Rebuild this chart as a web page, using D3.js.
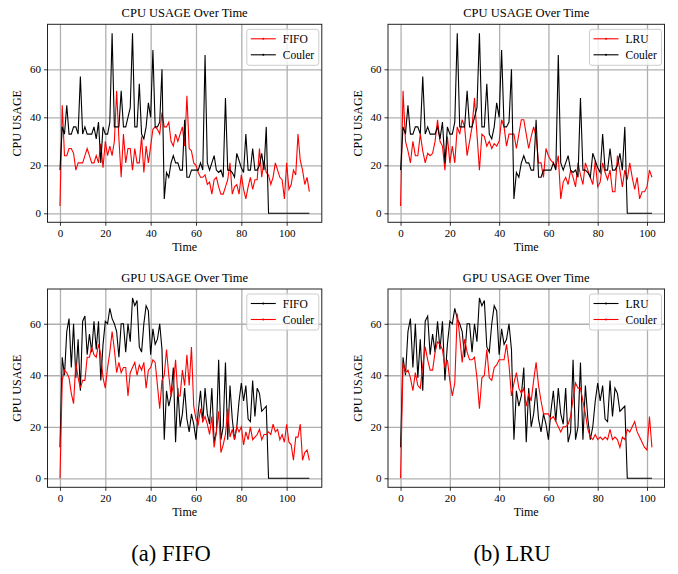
<!DOCTYPE html>
<html>
<head>
<meta charset="utf-8">
<script src="https://cdn.jsdelivr.net/npm/d3@7"></script>
<style>
  html, body { margin: 0; padding: 0; background: #fff; }
  svg { display: block; }
  text { font-family: "Liberation Serif", "DejaVu Serif", serif; fill: #000; }
</style>
</head>
<body>
<script>
// ---------------- DATA ----------------
const xTicks = [0, 20, 40, 60, 80, 100];
const yTicks = [0, 20, 40, 60];

// CPU usage, FIFO run (x = 0..110)
const cpuFifo = [3,45,24,24,27,27,25,18,21,21,
  21,24,27,24,21,21,24,21,29,19,
  30,24,28,24,30,51,31,15,33,21,
  27,27,18,27,21,21,32,17,28,21,
  28,35,36,35,33,42,36,36,38,30,
  28,33,30,33,36,28,49,27,26,21,
  20,17,15,15,16,12,13,8,14,15,
  11,8,8,11,14,21,8,11,12,8,
  16,10,6,11,15,10,14,14,27,15,
  22,17,16,12,15,21,18,15,14,6,
  21,10,12,18,16,33,22,18,12,15,9];

// CPU usage, Couler (x = 0..110)
const cpuCouler = [18,36,33,45,33,33,36,36,33,57,
  33,36,33,33,33,36,31,38,21,36,
  33,33,38,75,36,36,36,51,36,36,
  40,44,75,36,36,54,33,31,36,46,
  40,68,36,36,38,60,6,17,15,21,
  24,21,21,18,18,39,15,15,18,18,
  18,18,21,18,66,21,18,21,24,18,
  17,18,15,48,18,18,17,15,25,22,
  19,17,33,18,18,27,18,18,20,25,
  18,36,0,0,0,0,0,0,0,0,
  0,0,0,0,0,0,0,0,0,0,0];

// CPU usage, LRU run (x = 0..102)
const cpuLru = [3,51,30,26,21,30,24,24,33,26,
  21,25,24,25,30,39,30,28,18,32,
  21,28,21,36,33,39,36,24,30,36,
  48,33,18,33,32,28,30,27,29,28,
  30,39,36,28,33,33,33,27,33,39,
  39,33,27,32,36,32,21,21,15,27,
  24,22,21,19,24,6,13,15,12,18,
  15,11,21,16,12,21,18,15,12,22,
  11,13,21,17,14,18,9,9,24,18,
  11,18,14,21,15,10,15,6,9,9,
  11,18,15];

// GPU usage, black series (x = 0..110)
const gpuBlack = [12,47,40,57,62,43,60,39,54,34,
  61,63,48,56,49,61,50,61,38,52,
  61,60,66,62,60,57,47,60,60,49,
  60,53,70,67,69,51,49,60,67,65,
  48,58,52,54,60,50,15,34,28,32,
  43,14,35,20,25,35,23,18,25,21,
  15,26,34,22,35,25,21,35,14,18,
  46,15,20,45,15,36,23,15,20,30,
  37,30,36,23,22,38,24,35,33,26,
  27,28,0,0,0,0,0,0,0,0,
  0,0,0,0,0,0,0,0,0,0,0];

// GPU usage, red series of the FIFO figure (x = 0..110)
const gpuRedFifo = [0,38,42,41,39,33,29,45,39,35,
  38,38,47,47,51,48,47,52,48,39,
  35,43,49,57,50,41,45,41,43,43,
  32,41,43,45,40,44,42,45,35,42,
  43,46,45,36,27,38,40,50,40,32,
  36,46,32,32,42,36,48,36,51,28,
  23,21,27,22,24,21,17,24,12,18,
  26,10,13,17,27,16,19,15,20,18,
  20,13,18,15,20,15,16,17,19,15,
  17,17,18,17,21,18,19,15,17,14,
  21,14,13,7,16,16,21,7,10,11,7];

// GPU usage, red series of the LRU figure (x = 0..102)
const gpuRedLru = [0,45,41,42,39,34,41,36,35,44,
  51,46,42,42,49,53,52,50,43,46,
  38,32,37,64,55,45,54,49,46,46,
  47,39,27,39,40,50,39,38,43,44,
  46,46,46,52,44,32,37,41,35,33,
  35,28,33,30,38,45,36,30,25,25,
  25,23,24,22,20,18,20,20,21,24,
  31,37,35,35,30,25,19,16,15,17,
  15,16,15,16,15,19,15,16,15,12,
  16,15,19,18,20,22,18,16,14,12,
  11,24,12];

const RED = "#ff0000", BLACK = "#000000";

// ---------------- LAYOUT ----------------
const W = 678, H = 574;
const svg = d3.select("body").append("svg").attr("width", W).attr("height", H);
svg.append("rect").attr("width", W).attr("height", H).attr("fill", "#fff");

const colL = {left: 47.5, right: 321.8};
const colR = {left: 388.0, right: 664.5};
const rowT = {top: 24.3, bottom: 222.3};
const rowB = {top: 289.0, bottom: 487.3};

const panels = [
  {col: colL, row: rowT, xMax: 110, yMax: 75, title: "CPU USAGE Over Time", ylabel: "CPU USAGE",
   series: [{data: cpuFifo, color: RED, label: "FIFO"}, {data: cpuCouler, color: BLACK, label: "Couler"}]},
  {col: colR, row: rowT, xMax: 102, yMax: 75, title: "CPU USAGE Over Time", ylabel: "CPU USAGE",
   series: [{data: cpuLru, color: RED, label: "LRU"}, {data: cpuCouler.slice(0, 103), color: BLACK, label: "Couler"}]},
  {col: colL, row: rowB, xMax: 110, yMax: 70, title: "GPU USAGE Over Time", ylabel: "GPU USAGE",
   series: [{data: gpuBlack, color: BLACK, label: "FIFO"}, {data: gpuRedFifo, color: RED, label: "Couler"}]},
  {col: colR, row: rowB, xMax: 102, yMax: 70, title: "GPU USAGE Over Time", ylabel: "GPU USAGE",
   series: [{data: gpuBlack.slice(0, 103), color: BLACK, label: "LRU"}, {data: gpuRedLru, color: RED, label: "Couler"}]}
];

function drawPanel(p) {
  const L = p.col.left, R = p.col.right, T = p.row.top, B = p.row.bottom;
  const xp = p.xMax * 0.05, yp = p.yMax * 0.05;
  const x = d3.scaleLinear().domain([-xp, p.xMax + xp]).range([L, R]);
  const y = d3.scaleLinear().domain([-yp, p.yMax + yp]).range([B, T]);
  const g = svg.append("g");

  // grid
  const gx = g.append("g").attr("transform", `translate(0,${B})`)
    .call(d3.axisBottom(x).tickValues(xTicks).tickSize(-(B - T)).tickFormat(""));
  const gy = g.append("g").attr("transform", `translate(${L},0)`)
    .call(d3.axisLeft(y).tickValues(yTicks).tickSize(-(R - L)).tickFormat(""));
  [gx, gy].forEach(a => {
    a.select(".domain").remove();
    a.selectAll("line").attr("stroke", "#b0b0b0").attr("stroke-width", 1.3);
  });

  // lines
  const line = d3.line().x((d, i) => x(i)).y(d => y(d));
  p.series.forEach(s => {
    g.append("path").datum(s.data).attr("d", line)
      .attr("fill", "none").attr("stroke", s.color).attr("stroke-width", 1.1)
      .attr("stroke-linejoin", "miter");
  });

  // frame
  g.append("rect").attr("x", L).attr("y", T).attr("width", R - L).attr("height", B - T)
    .attr("fill", "none").attr("stroke", "#222").attr("stroke-width", 1);

  // axes ticks + labels
  const ax = g.append("g").attr("transform", `translate(0,${B})`)
    .call(d3.axisBottom(x).tickValues(xTicks).tickSize(3.5).tickPadding(3));
  const ay = g.append("g").attr("transform", `translate(${L},0)`)
    .call(d3.axisLeft(y).tickValues(yTicks).tickSize(3.5).tickPadding(3));
  [ax, ay].forEach(a => {
    a.select(".domain").remove();
    a.selectAll("line").attr("stroke", "#000").attr("stroke-width", 0.8);
    a.selectAll("text").attr("font-family", "Liberation Serif, serif").attr("font-size", 11).attr("fill", "#000");
  });

  // title
  g.append("text").attr("x", (L + R) / 2).attr("y", T - 7).attr("text-anchor", "middle")
    .attr("font-size", 12.5).text(p.title);
  // x label
  g.append("text").attr("x", (L + R) / 2).attr("y", B + 29).attr("text-anchor", "middle")
    .attr("font-size", 12).text("Time");
  // y label
  g.append("text").attr("transform", `translate(${L - 26.5},${(T + B) / 2}) rotate(-90)`)
    .attr("text-anchor", "middle").attr("font-size", 12).text(p.ylabel);

  // legend
  const lw = 72, lh = 36;
  const lx = R - 3 - lw, ly = T + 5;
  const lg = g.append("g");
  lg.append("rect").attr("x", lx).attr("y", ly).attr("width", lw).attr("height", lh)
    .attr("rx", 2.5).attr("fill", "#fff").attr("fill-opacity", 0.8)
    .attr("stroke", "#cccccc").attr("stroke-width", 1);
  p.series.forEach((s, i) => {
    const yy = ly + 9.5 + i * 16;
    lg.append("line").attr("x1", lx + 4).attr("x2", lx + 29).attr("y1", yy).attr("y2", yy)
      .attr("stroke", s.color).attr("stroke-width", 1.1);
    lg.append("circle").attr("cx", lx + 16.5).attr("cy", yy).attr("r", 1).attr("fill", s.color);
    lg.append("text").attr("x", lx + 36).attr("y", yy + 4).attr("font-size", 11.5).text(s.label);
  });
}

panels.forEach(drawPanel);

// sub-figure captions
svg.append("text").attr("x", 171).attr("y", 561).attr("text-anchor", "middle")
  .attr("font-size", 22.5).text("(a) FIFO");
svg.append("text").attr("x", 512).attr("y", 561).attr("text-anchor", "middle")
  .attr("font-size", 22.5).text("(b) LRU");
</script>
</body>
</html>
